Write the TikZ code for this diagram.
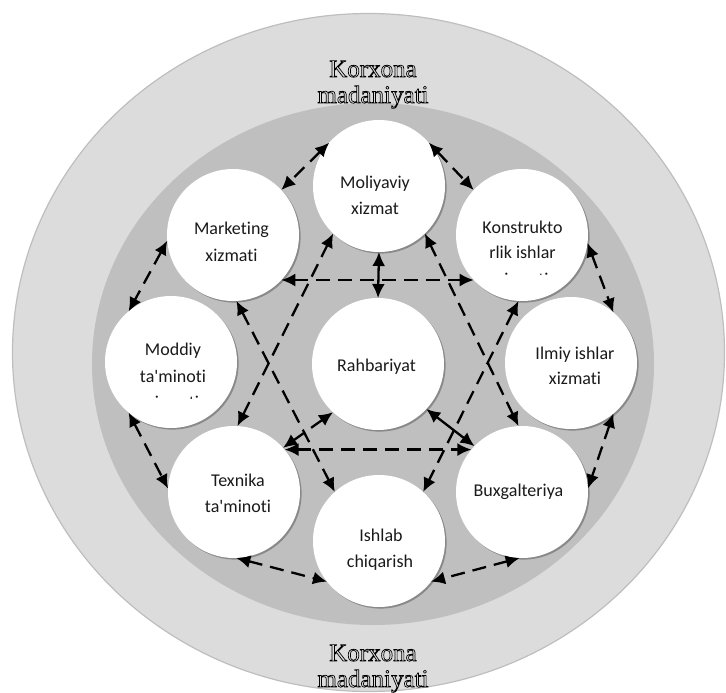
\documentclass[tikz,border=0pt]{standalone}
\usepackage{fontspec}
\setmainfont{Liberation Serif}
\newfontfamily\bodyfont[Ligatures={NoCommon}]{Carlito}
\usetikzlibrary{arrows.meta,shadows}

\definecolor{ringlight}{HTML}{DCDCDC}
\definecolor{ringedge}{HTML}{BEBEBE}
\definecolor{ringdark}{HTML}{BFBFBF}
\definecolor{ink}{HTML}{1A1A1A}

% hollow (outlined) lettering for the culture caption
\newcommand{\hollow}[1]{\special{pdf:literal direct 1 Tr 0.7 w}#1\special{pdf:literal direct 0 Tr}}

\tikzset{
  unit/.style={circle, fill=white, minimum size=132pt, inner sep=0pt, outer sep=0pt,
    drop shadow={shadow xshift=1.6pt, shadow yshift=-1.6pt, fill=black, opacity=0.28}},
  caption/.style={font=\bodyfont\fontsize{18}{26}\selectfont, text=ink, inner sep=0pt, anchor=base},
  culture/.style={font=\fontsize{25}{24}\selectfont, text=black, inner sep=0pt, anchor=base},
  tipstyle/.style={{Latex[length=14pt,width=13pt]}-{Latex[length=14pt,width=13pt]}},
  dlink/.style={tipstyle, line width=2.3pt, black, dash pattern=on 14pt off 8pt},
  slink/.style={tipstyle, line width=2.3pt, black}
}

\begin{document}
\begin{tikzpicture}[x=1pt, y=-1pt]
\useasboundingbox (0,0) rectangle (726,693);

% background rings
\fill[ringlight, draw=ringedge, line width=1.2pt] (368.5,352.5) ellipse [x radius=356, y radius=339];
\fill[ringdark] (373,364) ellipse [x radius=281, y radius=261];

% departments
\node[unit] (mol) at (379,186) {};
\node[unit] (kon) at (522,235) {};
\node[unit] (ilm) at (571,363) {};
\node[unit] (bux) at (522,492) {};
\node[unit] (ish) at (379,541) {};
\node[unit] (tex) at (234,492) {};
\node[unit] (mod) at (171,362) {};
\node[unit] (mar) at (233,235) {};
\node[unit] (rah) at (378,364) {};

% department names
\node[caption] (mol-a) at (375,188) {Moliyaviy};
\node[caption] (mol-b) at (375,214) {xizmat};
\node[caption] (mar-a) at (231.5,234) {Marketing};
\node[caption] (mar-b) at (231.5,261) {xizmati};
\node[caption] (kon-a) at (522.5,233) {Konstrukto};
\node[caption] (kon-b) at (522.5,258) {rlik ishlar};
\begin{scope}
  \clip (455,150) rectangle (590,274);
  \node[caption] (kon-c) at (522.5,285) {xizmati};
\end{scope}
\node[caption] (mod-a) at (173,355) {Moddiy};
\node[caption] (mod-b) at (173,382) {ta'minoti};
\begin{scope}
  \clip (100,300) rectangle (240,398);
  \node[caption] (mod-c) at (173,408) {xizmati};
\end{scope}
\node[caption] (rah-a) at (376.5,371) {Rahbariyat};
\node[caption] (ilm-a) at (575,359) {Ilmiy ishlar};
\node[caption] (ilm-b) at (575,384) {xizmati};
\node[caption] (tex-a) at (238,486) {Texnika};
\node[caption] (tex-b) at (238,512) {ta'minoti};
\node[caption] (bux-a) at (518.5,496) {Buxgalteriya};
\node[caption] (ish-a) at (381,541) {Ishlab};
\node[caption] (ish-b) at (380,567) {chiqarish};

% outer ring of neighbours
\draw[dlink] (mol.139) -- (mar.43);
\draw[dlink] (mol.41) -- (kon.137);
\draw[dlink] (kon.-7) -- (ilm.50);
\draw[dlink] (ilm.-50) -- (bux.3);
\draw[dlink] (bux.-92) -- (ish.-38);
\draw[dlink] (tex.-88) -- (ish.-142);
\draw[dlink] (mod.-130) -- (tex.177);
\draw[dlink] (mar.-175) -- (mod.130);

% two crossing triangles
\draw[dlink] (mar.-43) -- (kon.-137);
\draw[dlink] (mar.-87) -- (ish.132);
\draw[dlink] (kon.-93) -- (ish.48);
\draw[dlink] (tex.87) -- (mol.-134);
\draw[dlink] (bux.93) -- (mol.-46);
\draw[dlink] (tex.40) -- (bux.140);

% management links
\draw[slink] (rah.90) -- (mol.-90);
\draw[dlink] (rah.-133) -- (tex.42);
\draw[slink] (rah.-43) -- (bux.136);

% culture captions
\node[culture] (top-a) at (373,77) {\hollow{Korxona}};
\node[culture] (top-b) at (373,103) {\hollow{madaniyati}};
\node[culture] (bot-a) at (373,661) {\hollow{Korxona}};
\node[culture] (bot-b) at (373,687) {\hollow{madaniyati}};
\end{tikzpicture}
\end{document}
